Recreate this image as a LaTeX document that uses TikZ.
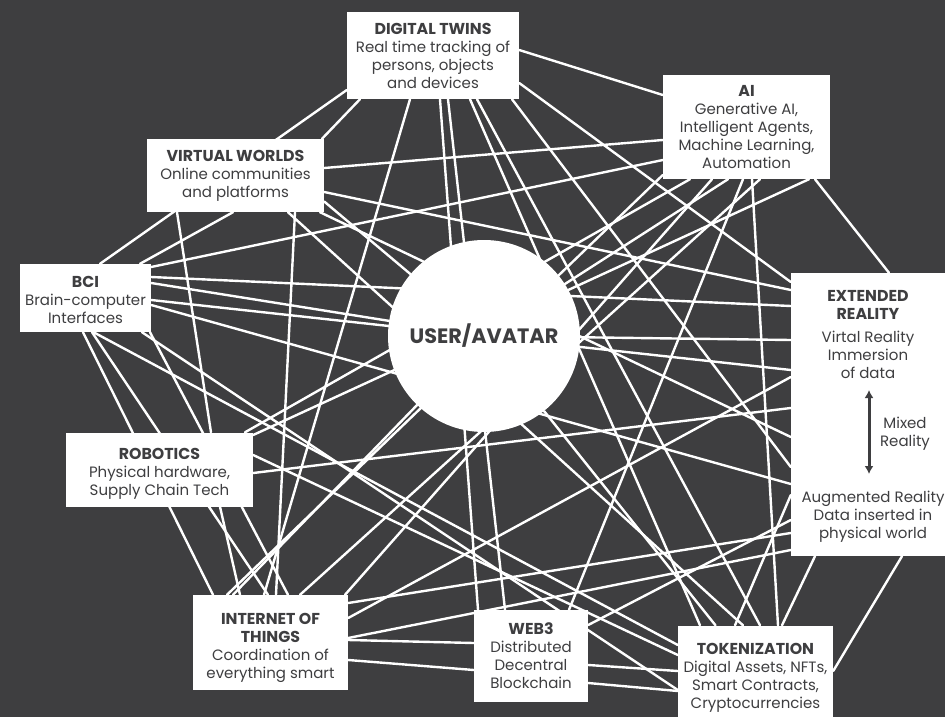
\documentclass[tikz,border=0pt]{standalone}
\usepackage{fontspec}
\setmainfont{Poppins}
\usetikzlibrary{arrows.meta}
\definecolor{slate}{RGB}{62,62,64}
\pgfdeclarelayer{bg}
\pgfdeclarelayer{mesh}
\pgfsetlayers{bg,mesh,main}
\tikzset{
  topic/.style={fill=white, text=slate, align=center, inner sep=0pt,
    font=\fontsize{15}{18}\selectfont},
  inner/.style={text=slate, align=center, inner sep=0pt,
    font=\fontsize{15}{18}\selectfont},
  link/.style={draw=white, line width=2.4pt, line cap=round},
}
\newcommand{\hd}[1]{{\fontsize{15.8}{18}\selectfont\bfseries #1}}
\newcommand{\lift}[1]{\rule{0pt}{#1}}

\begin{document}
\begin{tikzpicture}[x=1pt, y=-1pt]
  \begin{pgfonlayer}{bg}
    \fill[slate] (0,0) rectangle (945,717);
  \end{pgfonlayer}
  \useasboundingbox (0,0) rectangle (945,717);

  \node[circle, fill=white, text=slate, minimum size=192pt, inner sep=0pt,
    font=\fontsize{20.8}{24}\selectfont\bfseries] (user) at (484,336) {USER/AVATAR};
  \node[topic, minimum width=172pt, minimum height=87pt] (dt) at (433,55.5)
    {\hd{DIGITAL TWINS}\\Real time tracking of\\persons, objects\\and devices};
  \node[topic, minimum width=167pt, minimum height=104pt] (ai) at (746.5,127)
    {\hd{AI}\\Generative AI,\\Intelligent Agents,\\Machine Learning,\\Automation};
  \node[topic, minimum width=177pt, minimum height=73pt] (vw) at (235.5,175.5)
    {\hd{VIRTUAL WORLDS}\\Online communities\\and platforms};
  \node[topic, minimum width=131pt, minimum height=68pt] (bci) at (85.5,298)
    {\lift{15pt}\hd{BCI}\\Brain-computer\\Interfaces};
  \node[topic, minimum width=154pt, minimum height=283pt] (er) at (868,414.5) {};
  \node[topic, minimum width=187pt, minimum height=74pt] (rob) at (159.5,469.5)
    {\lift{19pt}\hd{ROBOTICS}\\Physical hardware,\\Supply Chain Tech};
  \node[topic, minimum width=155pt, minimum height=95pt] (iot) at (270.5,642.5)
    {\lift{22pt}\hd{INTERNET OF}\\\hd{THINGS}\\Coordination of\\everything smart};
  \node[topic, minimum width=114pt, minimum height=92pt] (web) at (531,656)
    {\hd{WEB3}\\Distributed\\Decentral\\Blockchain};
  \node[topic, minimum width=155pt, minimum height=92pt] (tok) at (755.5,671.5)
    {\lift{23pt}\hd{TOKENIZATION}\\Digital Assets, NFTs,\\Smart Contracts,\\Cryptocurrencies};

  % inside extended reality
  \node[inner] (ertitle) at (868,305) {\hd{EXTENDED}\\\hd{REALITY}};
  \node[inner] (vr) at (868,355) {Virtal Reality\\Immersion\\of data};
  \node[inner] (mr) at (905,434) {Mixed\\Reality};
  \node[inner] (ar) at (873,517) {Augmented Reality\\Data inserted in\\physical world};
  \coordinate (mtop) at (869,390);
  \coordinate (mbot) at (869,474);
  \draw[slate, line width=3pt, {Latex[length=8pt,width=9pt]}-{Latex[length=8pt,width=9pt]}] (mtop) -- (mbot);

  \begin{pgfonlayer}{mesh}
    % digital twins
    \draw[link] ([yshift=5.5pt]dt.east) -- ([yshift=32pt]ai.west);
    \draw[link] ([yshift=-27.5pt]dt.east) -- ([yshift=132.5pt]er.west);
    \draw[link] ([yshift=-34.5pt]dt.west) -- ([xshift=14.5pt]bci.north);
    \draw[link] ([xshift=-73pt]dt.south) -- ([xshift=86.5pt]vw.north);
    \draw[link] ([xshift=-23pt]dt.south) -- ([xshift=-6.5pt]iot.north);
    \draw[link] ([xshift=7pt]dt.south) -- ([xshift=-53pt]web.north);
    \draw[link] ([xshift=15pt]dt.south) -- ([xshift=-26pt]web.north);
    \draw[link] ([xshift=37pt]dt.south) -- ([xshift=-55.5pt]tok.north);
    \draw[link] ([xshift=44pt]dt.south) -- ([xshift=4.5pt]tok.north);
    \draw[link] ([xshift=79pt]dt.south) -- ([yshift=-52.5pt]er.west);
    % virtual worlds
    \draw[link] ([yshift=7.5pt]vw.east) -- ([yshift=-13pt]ai.west);
    \draw[link] ([yshift=-16.5pt]vw.east) -- ([yshift=124.5pt]er.west);
    \draw[link] ([yshift=-26pt]vw.east) -- (user);
    \draw[link] ([xshift=84.5pt]vw.south) -- ([yshift=-22.5pt]er.west);
    \draw[link] ([xshift=52.5pt]vw.south) -- ([xshift=-12.5pt]tok.north);
    \draw[link] ([xshift=59.5pt]vw.south) -- ([xshift=5.5pt]iot.north);
    \draw[link] ([xshift=-58.5pt]vw.south) -- ([xshift=51.5pt]rob.north);
    \draw[link] ([xshift=-2.5pt]vw.south) -- ([xshift=54.5pt]bci.north);
    % bci
    \draw[link] ([yshift=31pt]bci.east) -- ([yshift=-33pt]ai.west);
    \draw[link] ([yshift=21pt]bci.east) -- ([yshift=108.5pt]er.west);
    \draw[link] ([yshift=15pt]bci.east) -- (user);
    \draw[link] ([yshift=-2pt]bci.east) -- ([yshift=44.5pt]er.west);
    \draw[link] ([yshift=-7pt]bci.east) -- ([yshift=-69.5pt]er.west);
    \draw[link] ([xshift=-2.5pt]bci.south) -- ([xshift=-57.5pt]iot.north);
    \draw[link] ([xshift=6.5pt]bci.south) -- ([xshift=-2.5pt]iot.north);
    \draw[link] ([xshift=64.5pt]bci.south) -- ([xshift=17.5pt]iot.north);
    \draw[link] ([xshift=8pt]bci.south) -- ([yshift=26.5pt]tok.west);
    \draw[link] ([xshift=56.5pt]bci.south) -- ([yshift=-18.5pt]tok.west);
    % robotics
    \draw[link] ([yshift=34.5pt]rob.east) -- ([xshift=62.5pt]ai.south);
    \draw[link] ([yshift=14.5pt]rob.east) -- ([yshift=16.5pt]tok.west);
    \draw[link] ([yshift=-3.5pt]rob.east) -- ([yshift=6.5pt]er.west);
    \draw[link] ([xshift=60.5pt]rob.south) -- ([xshift=-30.5pt]iot.north);
    % internet of things
    \draw[link] ([yshift=39.5pt]iot.east) -- ([yshift=-118.5pt]er.west);
    \draw[link] ([yshift=24.5pt]iot.east) -- ([yshift=37.5pt]er.west);
    \draw[link] ([yshift=4.5pt]iot.east) -- ([yshift=-135.5pt]er.west);
    \draw[link] ([yshift=2.5pt]iot.east) -- ([yshift=13pt]web.west);
    \draw[link] ([yshift=-17.5pt]iot.east) -- ([yshift=-14pt]web.west);
    \draw[link] ([xshift=-43.5pt]iot.north) -- ([yshift=-48pt]ai.west);
    \draw[link] ([xshift=-37.5pt]iot.north) -- (user);
    \draw[link] ([xshift=29.5pt]iot.north) -- ([xshift=13.5pt]ai.south);
    % web3 and tokenization
    \draw[link] ([yshift=-9pt]web.east) -- ([yshift=0.5pt]tok.west);
    \draw[link] ([yshift=-27pt]web.east) -- ([yshift=-19.5pt]tok.west);
    \draw[link] ([yshift=31pt]web.east) -- ([yshift=-105.5pt]er.west);
    \draw[link] ([xshift=-20.5pt]tok.north) -- ([yshift=-80.5pt]er.west);
    \draw[link] ([xshift=-40pt]tok.north) -- (user);
    % extended reality and ai
    \draw[link] ([xshift=-53pt]er.south) -- ([xshift=26.5pt]tok.north);
    \draw[link] ([xshift=34pt]er.south) -- ([yshift=0.5pt]tok.east);
    \draw[link] ([yshift=74.5pt]er.west) -- (user);
    \draw[link] ([xshift=68.5pt]ai.south) -- ([xshift=21pt]er.north);
    \draw[link] ([xshift=5.5pt]ai.south) -- ([xshift=22.5pt]tok.north);
    \draw[link] ([xshift=-3.5pt]ai.south) -- ([xshift=38pt]web.north);
    \draw[link] ([xshift=-18.5pt]ai.south) -- (user);
    \draw[link] ([xshift=-34.5pt]ai.south) -- ([xshift=74.5pt]iot.north);
    \draw[link] ([xshift=-56.5pt]ai.south) -- ([xshift=85.5pt]rob.north);
  \end{pgfonlayer}
\end{tikzpicture}
\end{document}
